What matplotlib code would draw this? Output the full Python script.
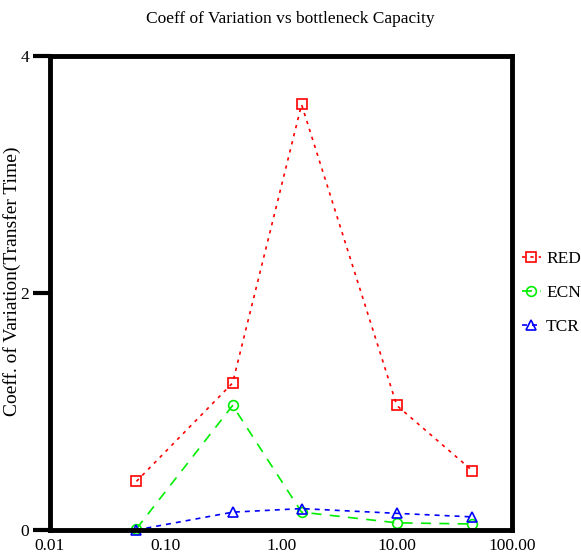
import numpy as np
import matplotlib
matplotlib.use("Agg")
import matplotlib.pyplot as plt
from matplotlib.ticker import FixedLocator, NullFormatter

plt.rcParams['font.family'] = ['Liberation Serif', 'DejaVu Serif']

capacity = [0.056, 0.38, 1.5, 10.0, 45.0]
red = [0.41, 1.24, 3.59, 1.05, 0.50]
ecn = [0.01, 1.05, 0.15, 0.06, 0.05]
tcr = [0.0, 0.15, 0.18, 0.14, 0.11]

xticks = [0.01, 0.1, 1, 10, 100]
xticklabels = ['0.01', '0.10', '1.00', '10.00', '100.00']
yticks = [0, 2, 4]

fig = plt.figure(figsize=(5.81, 5.59), dpi=100)
ax = fig.add_axes([0.086, 0.052, 0.796, 0.848])

ax.plot(capacity, red, color='red', linestyle=(0, (2, 3)), lw=1.2,
        marker='s', mfc='none', mec='red', ms=7, mew=1.2, label='RED', clip_on=False)
ax.plot(capacity, ecn, color='#00ee00', linestyle=(0, (6, 5)), lw=1.2,
        marker='o', mfc='none', mec='#00ee00', ms=7, mew=1.2, label='ECN', clip_on=False)
ax.plot(capacity, tcr, color='blue', linestyle=(0, (3, 3)), lw=1.2,
        marker='^', mfc='none', mec='blue', ms=7, mew=1.2, label='TCR', clip_on=False)

ax.set_xscale('log')
ax.set_xlim(0.01, 100)
ax.set_ylim(0, 4)
ax.set_xticks(xticks)
ax.set_xticklabels(xticklabels)
ax.xaxis.set_minor_locator(FixedLocator([0.1, 1]))
ax.xaxis.set_minor_formatter(NullFormatter())
ax.tick_params(axis='x', which='major', length=0, pad=6, labelsize=12.5)
ax.tick_params(axis='x', which='minor', direction='in', length=14, width=3, color='black')
ax.set_yticks(yticks)
ax.tick_params(axis='y', which='major', direction='out', length=12, width=3, labelsize=12.5, pad=3)

for s in ax.spines.values():
    s.set_linewidth(3.5)

ax.set_ylabel('Coeff. of Variation(Transfer Time)', fontsize=14)
ax.yaxis.set_label_coords(-0.062, 0.525)
fig.suptitle('Coeff of Variation vs bottleneck Capacity', x=0.5, y=0.98, fontsize=12.5)

ax.legend(loc='center left', bbox_to_anchor=(0.99, 0.5), frameon=False,
          fontsize=12.5, handlelength=1.1, handletextpad=0.3, labelspacing=1.05,
          borderaxespad=0.4)

fig.savefig('out.png', dpi=100)
